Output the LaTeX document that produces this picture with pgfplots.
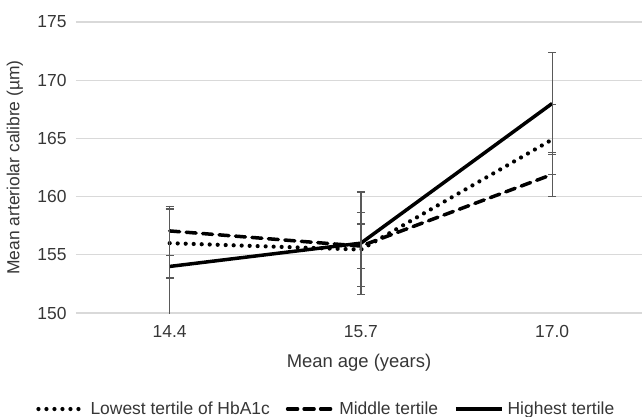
\documentclass[border=0pt]{standalone}
\usepackage{pgfplots}
\pgfplotsset{compat=1.18}
\usepackage{fontspec}
\setmainfont{Liberation Sans}
\definecolor{txt}{HTML}{363636}
\definecolor{gridc}{HTML}{D9D9D9}
\definecolor{errc}{HTML}{595959}
\newcommand{\cf}{\fontsize{17.5}{21}\selectfont}
\begin{document}
\begin{tikzpicture}
\begin{axis}[
  at={(0,0)}, anchor=south west,
  scale only axis, width=566bp, height=291bp,
  xmin=-0.49, xmax=2.47, ymin=150, ymax=175,
  xtick={0,1,2}, xticklabels={14.4,15.7,17.0},
  ytick={150,155,...,175},
  ymajorgrids, grid style={gridc, line width=1.2bp},
  axis line style={draw=none}, tick style={draw=none},
  /pgf/number format/assume math mode=true,
  ticklabel style={font=\cf, text=txt},
  label style={font=\cf, text=txt},
  yticklabel style={xshift=-6bp},
  xticklabel style={yshift=-9bp},
  xlabel={Mean age (years)},
  ylabel={Mean arteriolar calibre (\textmu m)},
  xlabel style={at={(axis description cs:0.5,-0.172)}, anchor=center, font=\fontsize{18.5}{22}\selectfont},
  ylabel style={at={(axis description cs:-0.108,0.5)}, anchor=center},
  legend columns=3,
  legend style={draw=none, fill=none, at={(axis description cs:0.444,-0.33)}, anchor=center,
    font=\cf, text=txt,
    /tikz/every even column/.append style={column sep=12bp},
    nodes={inner xsep=4bp}},
  legend image code/.code={\draw[#1] (0bp,0bp) -- (46bp,0bp);},
  error bars/y dir=both, error bars/y explicit,
  error bars/error bar style={solid, errc, line width=1.2bp},
  error bars/error mark options={solid, errc, line width=1.2bp, mark size=4bp, rotate=90},
]
\addplot[black, line width=4.2bp, line cap=round, dash pattern=on 0bp off 8bp] coordinates {
  (0,156.0) +- (0,3.0)
  (1,155.45) +- (0,3.15)
  (2,164.9) +- (0,3.0)
};
\addlegendentry{Lowest tertile of HbA1c}
\addplot[black, line width=3.5bp, line cap=round, dash pattern=on 10bp off 6.5bp] coordinates {
  (0,157.05) +- (0,2.1)
  (1,155.75) +- (0,1.9)
  (2,161.9) +- (0,1.9)
};
\addlegendentry{Middle tertile}
\addplot[black, line width=3.5bp] coordinates {
  (0,154.0) +- (0,4.9)
  (1,156.0) +- (0,4.4)
  (2,168.0) +- (0,4.4)
};
\addlegendentry{Highest tertile}
\end{axis}
\pgfresetboundingbox
\path[use as bounding box] (-76bp,-104bp) rectangle (566bp,313bp);
\end{tikzpicture}
\end{document}
